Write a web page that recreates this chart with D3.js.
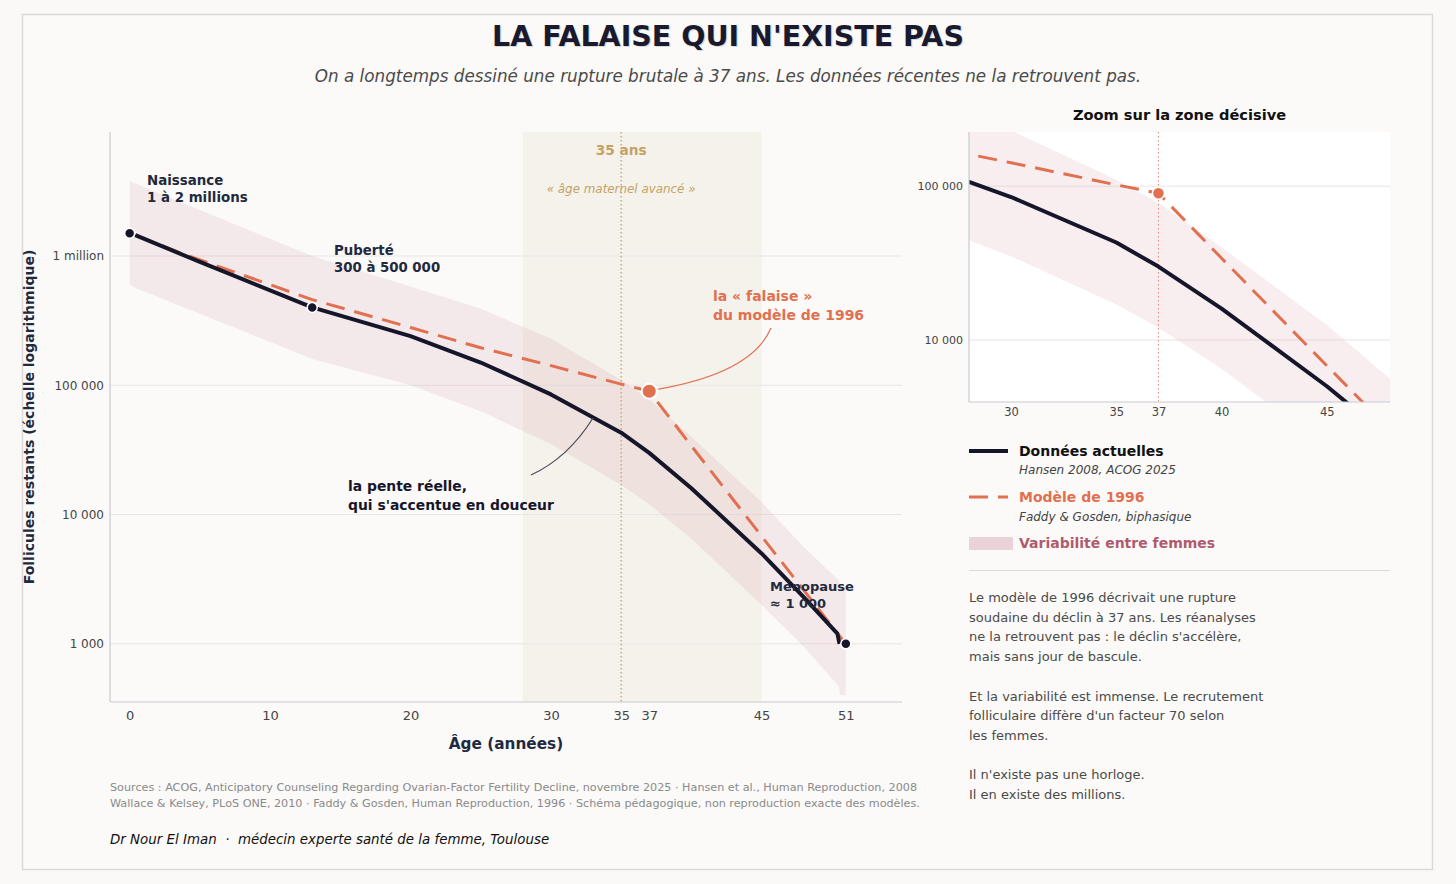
<!DOCTYPE html>
<html><head><meta charset="utf-8">
<script src="https://cdn.jsdelivr.net/npm/d3@7"></script>
<style>
html,body{margin:0;padding:0;background:#faf9f7;}
svg text{font-family:"DejaVu Sans",sans-serif;}
</style></head><body>
<svg id="c" width="1456" height="884"></svg>
<script>
// ---------- DATA ----------
const actualAges   = [0.4, 5, 13, 20, 25, 30, 35, 37, 40, 45, 48, 50.4, 50.55];
const actualValues = [1450000, 900000, 400000, 240000, 150000, 85000, 43000, 30000, 16000, 5000, 2300, 1200, 1000];

const modelAges   = [0.4, 4, 13, 20, 25, 30, 35, 37, 40, 45, 48, 51];
const modelValues = [1450000, 1020000, 460000, 280000, 195000, 142000, 102000, 90000, 34000, 6800, 2600, 1000];

const bandAges = [0, 0.5, 13, 20, 25, 30, 35, 37, 40, 45, 48, 50.5, 50.6, 51];
const bandHigh = [3800000, 3600000, 1000000, 580000, 390000, 230000, 110000, 78000, 40000, 12500, 5600, 3100, 2800, 2700];
const bandLow  = [600000, 560000, 160000, 100000, 63000, 35000, 17000, 12000, 6500, 2000, 950, 470, 400, 400];

const markerAges   = [0, 13, 51];
const markerValues = [1500000, 400000, 1000];
const cliffAge = 37, cliffValue = 90000;

const zoneAges = [28, 45];
const thresholdAge = 35;

const xTicks = [0, 10, 20, 30, 35, 37, 45, 51];
const yTicks = [1000, 10000, 100000, 1000000];
const yTickLabels = ["1 000", "10 000", "100 000", "1 million"];

const insetXTicks = [30, 35, 37, 40, 45];
const insetYTicks = [10000, 100000];
const insetYTickLabels = ["10 000", "100 000"];

const paragraphLines = [
  "Le modèle de 1996 décrivait une rupture",
  "soudaine du déclin à 37 ans. Les réanalyses",
  "ne la retrouvent pas : le déclin s'accélère,",
  "mais sans jour de bascule.",
  "",
  "Et la variabilité est immense. Le recrutement",
  "folliculaire diffère d'un facteur 70 selon",
  "les femmes.",
  "",
  "Il n'existe pas une horloge.",
  "Il en existe des millions."
];
const sourceLines = [
  "Sources : ACOG, Anticipatory Counseling Regarding Ovarian-Factor Fertility Decline, novembre 2025 · Hansen et al., Human Reproduction, 2008",
  "Wallace & Kelsey, PLoS ONE, 2010 · Faddy & Gosden, Human Reproduction, 1996 · Schéma pédagogique, non reproduction exacte des modèles."
];

// ---------- STYLE ----------
const C = {
  bg: "#faf9f7", navy: "#16162a", label: "#1f2a40", coral: "#e07050",
  gold: "#c4a265", band: "#c8788a", grid: "#e9e6e3", axis: "#c9c9d2", tick: "#444"
};

const svg = d3.select("#c");
svg.append("rect").attr("width",1456).attr("height",884).attr("fill",C.bg);
svg.append("rect").attr("x",22.5).attr("y",14.5).attr("width",1410).attr("height",855)
  .attr("fill","#fbfaf8").attr("stroke","#dcdad7").attr("stroke-width",1.5);

// Title
svg.append("text").attr("x",729.2).attr("y",47.2).attr("text-anchor","middle")
  .attr("font-size",28.5).attr("font-weight","bold").attr("fill","#1a1a2e").attr("opacity",0.15)
  .text("LA FALAISE QUI N'EXISTE PAS");
svg.append("text").attr("x",728).attr("y",46).attr("text-anchor","middle")
  .attr("font-size",28.5).attr("font-weight","bold").attr("fill","#1a1a2e")
  .text("LA FALAISE QUI N'EXISTE PAS");
svg.append("text").attr("x",728).attr("y",82).attr("text-anchor","middle")
  .attr("font-size",16.8).attr("font-style","italic").attr("fill","#4a4a4a")
  .text("On a longtemps dessiné une rupture brutale à 37 ans. Les données récentes ne la retrouvent pas.");

// ---------- MAIN CHART ----------
const M = {l:110, r:902, t:132, b:702};
const x = d3.scaleLinear().domain([-1.4, 55]).range([M.l, M.r]);
const y = d3.scaleLog().domain([355, 9.1e6]).range([M.b, M.t]);
const g = svg.append("g");

// advanced maternal age zone
g.append("rect").attr("x",x(zoneAges[0])).attr("y",M.t)
  .attr("width",x(zoneAges[1])-x(zoneAges[0])).attr("height",M.b-M.t)
  .attr("fill","#ece4d4").attr("opacity",0.38);

// grid
g.selectAll(".grid").data(yTicks).join("line")
  .attr("x1",M.l).attr("x2",M.r).attr("y1",d=>y(d)).attr("y2",d=>y(d))
  .attr("stroke",C.grid).attr("stroke-width",1);

// band
const bandData = bandAges.map((a,i)=>({a, lo:bandLow[i], hi:bandHigh[i]}));
const area = d3.area().x(d=>x(d.a)).y0(d=>y(d.lo)).y1(d=>y(d.hi));
g.append("path").datum(bandData).attr("d",area).attr("fill",C.band).attr("opacity",0.13);

// threshold line
g.append("line").attr("x1",x(thresholdAge)).attr("x2",x(thresholdAge)).attr("y1",M.t).attr("y2",M.b)
  .attr("stroke",C.gold).attr("stroke-width",1.3).attr("stroke-dasharray","1.5,2.5");

// lines
const lineGen = d3.line().x(d=>x(d[0])).y(d=>y(d[1]));
const modelData = modelAges.map((a,i)=>[a, modelValues[i]]);
const actualData = actualAges.map((a,i)=>[a, actualValues[i]]);
g.append("path").datum(modelData).attr("d",lineGen).attr("fill","none")
  .attr("stroke",C.coral).attr("stroke-width",3).attr("stroke-dasharray","19,10");
g.append("path").datum(actualData).attr("d",lineGen).attr("fill","none")
  .attr("stroke",C.navy).attr("stroke-width",4).attr("stroke-linejoin","round");

// axes
g.append("line").attr("x1",M.l).attr("x2",M.l).attr("y1",M.t).attr("y2",M.b).attr("stroke",C.axis).attr("stroke-width",1.2);
g.append("line").attr("x1",M.l).attr("x2",M.r).attr("y1",M.b).attr("y2",M.b).attr("stroke",C.axis).attr("stroke-width",1.2);
const xa = g.append("g").attr("transform",`translate(0,${M.b})`)
  .call(d3.axisBottom(x).tickValues(xTicks).tickSize(0).tickPadding(9).tickFormat(d3.format("d")));
xa.select(".domain").remove();
xa.selectAll("text").attr("font-size",13).attr("fill",C.tick).attr("font-family","DejaVu Sans");
const ya = g.append("g").attr("transform",`translate(${M.l},0)`)
  .call(d3.axisLeft(y).tickValues(yTicks).tickSize(0).tickPadding(6).tickFormat((d,i)=>yTickLabels[i]));
ya.select(".domain").remove();
ya.selectAll("text").attr("font-size",12).attr("fill",C.tick).attr("font-family","DejaVu Sans");

svg.append("text").attr("x",(M.l+M.r)/2).attr("y",749).attr("text-anchor","middle")
  .attr("font-size",15.3).attr("font-weight","bold").attr("fill",C.label).text("Âge (années)");
svg.append("text").attr("transform",`translate(34,${(M.t+M.b)/2}) rotate(-90)`).attr("text-anchor","middle")
  .attr("font-size",14).attr("font-weight","bold").attr("fill",C.label)
  .text("Follicules restants (échelle logarithmique)");

// zone labels
svg.append("text").attr("x",x(thresholdAge)).attr("y",155).attr("text-anchor","middle")
  .attr("font-size",13.7).attr("font-weight","bold").attr("fill",C.gold).text("35 ans");
svg.append("text").attr("x",x(thresholdAge)).attr("y",193).attr("text-anchor","middle")
  .attr("font-size",11.9).attr("font-style","italic").attr("fill",C.gold).text("« âge maternel avancé »");

// markers
g.selectAll(".mk").data(markerAges.map((a,i)=>[a,markerValues[i]])).join("circle")
  .attr("cx",d=>x(d[0])).attr("cy",d=>y(d[1])).attr("r",5)
  .attr("fill",C.navy).attr("stroke","#fff").attr("stroke-width",1.5);
g.append("circle").attr("cx",x(cliffAge)).attr("cy",y(cliffValue)).attr("r",7.5)
  .attr("fill",C.coral).attr("stroke","#fff").attr("stroke-width",2);

// annotations
function label(xp, yp, lines, color, size, lh){
  const t = svg.append("text").attr("font-size",size).attr("font-weight","bold").attr("fill",color);
  lines.forEach((s,i)=>t.append("tspan").attr("x",xp).attr("y",yp+i*lh).text(s));
}
label(147, 185, ["Naissance","1 à 2 millions"], C.label, 13.4, 17);
label(334, 255, ["Puberté","300 à 500 000"], C.label, 13.3, 17);
label(713, 301, ["la « falaise »","du modèle de 1996"], C.coral, 14, 18.5);
label(348, 491, ["la pente réelle,","qui s'accentue en douceur"], C.navy, 13.9, 18.5);
label(770, 591, ["Ménopause","≈ 1 000"], C.label, 13, 17);

const cx = x(cliffAge), cy = y(cliffValue);
svg.append("path").attr("d",`M771,328 Q752,373 ${cx+9},${cy-2}`)
  .attr("fill","none").attr("stroke",C.coral).attr("stroke-width",1.2);
svg.append("path").attr("d",`M531,475 Q568,458 593,418`)
  .attr("fill","none").attr("stroke","#4a4a5a").attr("stroke-width",1.2);

// ---------- INSET ----------
const I = {l:969, r:1390, t:132, b:402};
const xi = d3.scaleLinear().domain([28, 48]).range([I.l, I.r]);
const yi = d3.scaleLog().domain([3950, 2.25e5]).range([I.b, I.t]);
svg.append("text").attr("x",(I.l+I.r)/2).attr("y",120).attr("text-anchor","middle")
  .attr("font-size",14.6).attr("font-weight","bold").attr("fill","#111").text("Zoom sur la zone décisive");
const gi = svg.append("g");
gi.append("rect").attr("x",I.l).attr("y",I.t).attr("width",I.r-I.l).attr("height",I.b-I.t).attr("fill","#fff");
svg.append("clipPath").attr("id","ic").append("rect").attr("x",I.l).attr("y",I.t).attr("width",I.r-I.l).attr("height",I.b-I.t);
gi.selectAll(".ig").data(insetYTicks).join("line")
  .attr("x1",I.l).attr("x2",I.r).attr("y1",d=>yi(d)).attr("y2",d=>yi(d)).attr("stroke",C.grid);
const gc = gi.append("g").attr("clip-path","url(#ic)");
const areaI = d3.area().x(d=>xi(d.a)).y0(d=>yi(d.lo)).y1(d=>yi(d.hi));
gc.append("path").datum(bandData).attr("d",areaI).attr("fill",C.band).attr("opacity",0.13);
gc.append("line").attr("x1",xi(cliffAge)).attr("x2",xi(cliffAge)).attr("y1",I.t).attr("y2",I.b)
  .attr("stroke",C.coral).attr("stroke-width",1).attr("stroke-dasharray","1.5,2.5").attr("opacity",0.8);
const lineI = d3.line().x(d=>xi(d[0])).y(d=>yi(d[1]));
gc.append("path").datum(modelData).attr("d",lineI).attr("fill","none")
  .attr("stroke",C.coral).attr("stroke-width",3).attr("stroke-dasharray","19,10");
gc.append("path").datum(actualData).attr("d",lineI).attr("fill","none")
  .attr("stroke",C.navy).attr("stroke-width",4).attr("stroke-linejoin","round");
gc.append("circle").attr("cx",xi(cliffAge)).attr("cy",yi(cliffValue)).attr("r",6)
  .attr("fill",C.coral).attr("stroke","#fff").attr("stroke-width",1.5);
gi.append("line").attr("x1",I.l).attr("x2",I.l).attr("y1",I.t).attr("y2",I.b).attr("stroke",C.axis).attr("stroke-width",1.2);
gi.append("line").attr("x1",I.l).attr("x2",I.r).attr("y1",I.b).attr("y2",I.b).attr("stroke",C.axis).attr("stroke-width",1.2);
const xia = gi.append("g").attr("transform",`translate(0,${I.b})`)
  .call(d3.axisBottom(xi).tickValues(insetXTicks).tickSize(0).tickPadding(6).tickFormat(d3.format("d")));
xia.select(".domain").remove();
xia.selectAll("text").attr("font-size",11.5).attr("fill",C.tick).attr("font-family","DejaVu Sans");
const yia = gi.append("g").attr("transform",`translate(${I.l},0)`)
  .call(d3.axisLeft(yi).tickValues(insetYTicks).tickSize(0).tickPadding(6).tickFormat((d,i)=>insetYTickLabels[i]));
yia.select(".domain").remove();
yia.selectAll("text").attr("font-size",11).attr("fill",C.tick).attr("font-family","DejaVu Sans");

// ---------- LEGEND ----------
const L = svg.append("g");
L.append("line").attr("x1",969).attr("x2",1008).attr("y1",451).attr("y2",451).attr("stroke",C.navy).attr("stroke-width",4);
L.append("text").attr("x",1019).attr("y",456).attr("font-size",14).attr("font-weight","bold").attr("fill","#111").text("Données actuelles");
L.append("text").attr("x",1019).attr("y",474).attr("font-size",12).attr("font-style","italic").attr("fill","#444").text("Hansen 2008, ACOG 2025");
L.append("line").attr("x1",969).attr("x2",1008).attr("y1",497).attr("y2",497).attr("stroke",C.coral).attr("stroke-width",3).attr("stroke-dasharray","19,10");
L.append("text").attr("x",1019).attr("y",502).attr("font-size",14).attr("font-weight","bold").attr("fill",C.coral).text("Modèle de 1996");
L.append("text").attr("x",1019).attr("y",521).attr("font-size",12).attr("font-style","italic").attr("fill","#444").text("Faddy & Gosden, biphasique");
L.append("rect").attr("x",969).attr("y",537).attr("width",44).attr("height",13).attr("fill","#e9d2d8");
L.append("text").attr("x",1019).attr("y",548).attr("font-size",14).attr("font-weight","bold").attr("fill","#b05a6e").text("Variabilité entre femmes");
L.append("line").attr("x1",969).attr("x2",1390).attr("y1",570.5).attr("y2",570.5).attr("stroke","#dddbd8").attr("stroke-width",1.2);

const P = svg.append("text").attr("font-size",13).attr("fill","#4a4a4a");
paragraphLines.forEach((s,i)=>{ if(s) P.append("tspan").attr("x",969).attr("y",602+i*19.7).text(s); });

// ---------- FOOTER ----------
sourceLines.forEach((s,i)=>svg.append("text").attr("x",110).attr("y",791+i*16)
  .attr("font-size",11.2).attr("fill","#8a8a8a").text(s));
svg.append("text").attr("x",110).attr("y",844).attr("font-size",13.4).attr("font-style","italic").attr("fill","#111")
  .text("Dr Nour El Iman\u00a0\u00a0·\u00a0\u00a0médecin experte santé de la femme, Toulouse");
</script>
</body></html>
